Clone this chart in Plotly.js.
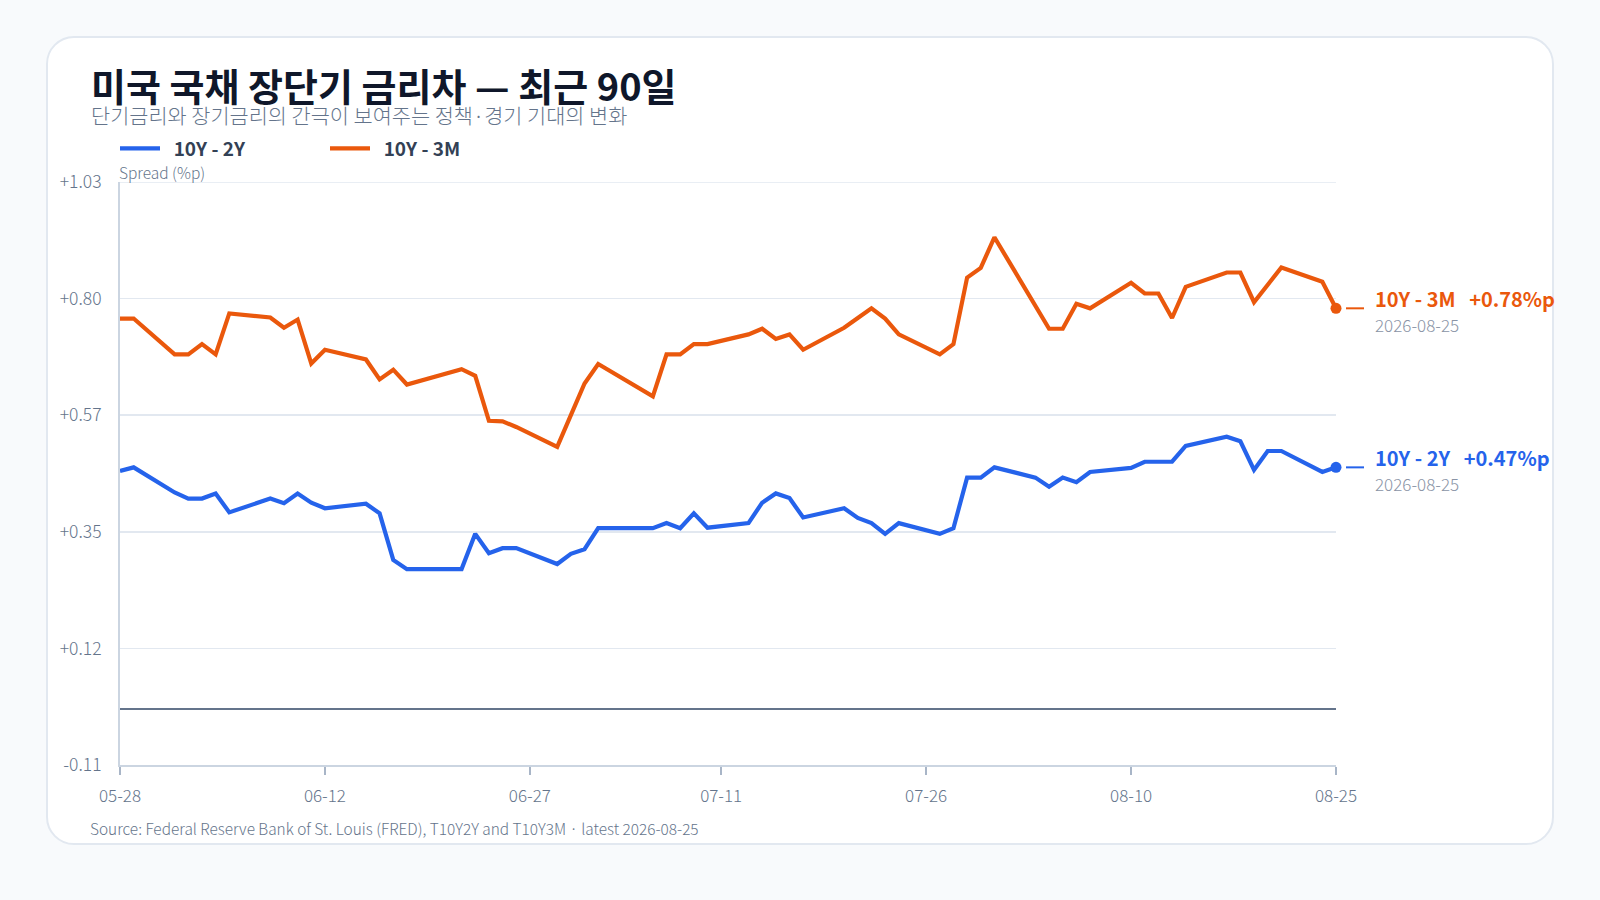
<!DOCTYPE html>
<html>
<head>
<meta charset="utf-8">
<script src="https://cdn.plot.ly/plotly-3.0.1.min.js"></script>
<style>
  html, body { margin: 0; padding: 0; width: 1600px; height: 900px; overflow: hidden; background: #f8fafc; }
  #card { position: absolute; left: 46px; top: 36px; width: 1504px; height: 805px; background: #ffffff;
          border: 2px solid #e2e8f0; border-radius: 28px; }
  #chart { position: absolute; left: 0; top: 0; width: 1600px; height: 900px; }
</style>
</head>
<body>
<div id="card"></div>
<div id="chart"></div>
<script>
// ---- data ----
const dates = [
  '2026-05-28','2026-05-29','2026-06-01','2026-06-02','2026-06-03','2026-06-04','2026-06-05',
  '2026-06-08','2026-06-09','2026-06-10','2026-06-11','2026-06-12','2026-06-15','2026-06-16',
  '2026-06-17','2026-06-18','2026-06-22','2026-06-23','2026-06-24','2026-06-25','2026-06-26',
  '2026-06-29','2026-06-30','2026-07-01','2026-07-02','2026-07-06','2026-07-07','2026-07-08',
  '2026-07-09','2026-07-10','2026-07-13','2026-07-14','2026-07-15','2026-07-16','2026-07-17',
  '2026-07-20','2026-07-21','2026-07-22','2026-07-23','2026-07-24','2026-07-27','2026-07-28',
  '2026-07-29','2026-07-30','2026-07-31','2026-08-03','2026-08-04','2026-08-05','2026-08-06',
  '2026-08-07','2026-08-10','2026-08-11','2026-08-12','2026-08-13','2026-08-14','2026-08-17',
  '2026-08-18','2026-08-19','2026-08-20','2026-08-21','2026-08-24','2026-08-25'
];
const spread10y2y = [
  0.465, 0.472, 0.423, 0.411, 0.411, 0.421, 0.384,
  0.411, 0.402, 0.421, 0.403, 0.392, 0.401, 0.382,
  0.291, 0.273, 0.273, 0.342, 0.304, 0.314, 0.314,
  0.283, 0.303, 0.312, 0.353, 0.353, 0.363, 0.353,
  0.382, 0.354, 0.363, 0.403, 0.421, 0.412, 0.374,
  0.392, 0.373, 0.363, 0.342, 0.363, 0.342, 0.353,
  0.452, 0.452, 0.472, 0.452, 0.434, 0.452, 0.443,
  0.463, 0.471, 0.483, 0.483, 0.483, 0.514, 0.532,
  0.523, 0.467, 0.504, 0.504, 0.463, 0.472
];
const spread10y3m = [
  0.763, 0.763, 0.693, 0.693, 0.713, 0.693, 0.773,
  0.765, 0.745, 0.761, 0.675, 0.702, 0.683, 0.644,
  0.663, 0.634, 0.664, 0.651, 0.563, 0.562, 0.551,
  0.512, 0.574, 0.636, 0.674, 0.611, 0.693, 0.693,
  0.713, 0.713, 0.732, 0.743, 0.723, 0.732, 0.702,
  0.745, 0.764, 0.783, 0.763, 0.732, 0.693, 0.713,
  0.843, 0.862, 0.922, 0.788, 0.743, 0.743, 0.792,
  0.783, 0.833, 0.812, 0.812, 0.764, 0.825, 0.853,
  0.853, 0.795, 0.830, 0.863, 0.835, 0.783
];
const seriesNames = ['10Y - 2Y', '10Y - 3M'];
const xTickDates  = ['2026-05-28','2026-06-12','2026-06-27','2026-07-11','2026-07-26','2026-08-10','2026-08-25'];
const xTickLabels = ['05-28','06-12','06-27','07-11','07-26','08-10','08-25'];
const yTickValues = [-0.11, 0.118, 0.346, 0.574, 0.802, 1.03];
const yTickLabels = ['-0.11', '+0.12', '+0.35', '+0.57', '+0.80', '+1.03'];
const yRange = [-0.11, 1.03];

const titleText = '미국 국채 장단기 금리차 — 최근 90일';
const subtitleText = '단기금리와 장기금리의 간극이 보여주는 정책·경기 기대의 변화';
const yAxisLabel = 'Spread (%p)';
const sourceText = 'Source: Federal Reserve Bank of St. Louis (FRED), T10Y2Y and T10Y3M · latest 2026-08-25';

// ---- styling ----
const FONT = '"Noto Sans CJK KR", "Noto Sans", sans-serif';
const COLORS = ['#2563eb', '#ea580c'];
const GRID = '#e2e8f0';
const W = 1600, H = 900;
const M = { l: 120, r: 264, t: 182, b: 135 };
const PW = W - M.l - M.r, PH = H - M.t - M.b;
const px = x => (x - M.l) / PW;            // page px -> paper x
const py = y => (H - M.b - y) / PH;        // page px -> paper y

const series = [spread10y2y, spread10y3m];
const last = dates.length - 1;
const lastDate = dates[last];

const traces = [];
series.forEach((vals, i) => {
  traces.push({
    type: 'scatter', mode: 'lines', name: '\u00a0\u00a0' + seriesNames[i],
    x: dates, y: vals,
    line: { color: COLORS[i], width: 4.2 },
    hoverinfo: 'skip'
  });
});
series.forEach((vals, i) => {
  traces.push({
    type: 'scatter', mode: 'markers', showlegend: false,
    x: [lastDate], y: [vals[last]],
    marker: { color: COLORS[i], size: 11 },
    cliponaxis: false, hoverinfo: 'skip'
  });
});

const fmt = v => (v >= 0 ? '+' : '') + v.toFixed(2);

const annotations = [
  { text: subtitleText, xref: 'paper', yref: 'paper', x: px(90), y: py(115.5), xanchor: 'left', yanchor: 'middle',
    showarrow: false, borderpad: 0, font: { family: FONT, size: 20.8, color: '#64748b', weight: 300 } },
  { text: yAxisLabel, xref: 'paper', yref: 'paper', x: px(118), y: py(171.5), xanchor: 'left', yanchor: 'middle',
    showarrow: false, borderpad: 0, font: { family: FONT, size: 15.5, color: '#64748b', weight: 300 } },
  { text: sourceText, xref: 'paper', yref: 'paper', x: px(88), y: py(828), xanchor: 'left', yanchor: 'middle',
    showarrow: false, font: { family: FONT, size: 15.4, color: '#64748b', weight: 300 } }
];
const shapes = [
  // top gridline at the upper end of the y range
  { type: 'line', xref: 'paper', yref: 'y', x0: 0, x1: 1, y0: yRange[1], y1: yRange[1],
    line: { color: GRID, width: 1.5 }, layer: 'below' }
];
series.forEach((vals, i) => {
  const v = vals[last];
  annotations.push({
    text: '<b>' + seriesNames[i] + '\u00a0\u00a0\u00a0' + fmt(v) + '%p</b>',
    xref: 'x', yref: 'y', x: lastDate, y: v, xanchor: 'left', yanchor: 'middle',
    xshift: 37, yshift: 10, showarrow: false,
    font: { family: FONT, size: 20, color: COLORS[i] }
  });
  annotations.push({
    text: lastDate,
    xref: 'x', yref: 'y', x: lastDate, y: v, xanchor: 'left', yanchor: 'middle',
    xshift: 37, yshift: -16, showarrow: false,
    font: { family: FONT, size: 17, color: '#8a94a6', weight: 300 }
  });
  shapes.push({
    type: 'line', xref: 'paper', yref: 'y',
    x0: 1 + 10 / PW, x1: 1 + 28 / PW, y0: v, y1: v,
    line: { color: COLORS[i], width: 2 }
  });
});

const layout = {
  width: W, height: H,
  paper_bgcolor: 'rgba(0,0,0,0)', plot_bgcolor: 'rgba(0,0,0,0)',
  margin: M,
  font: { family: FONT, color: '#334155' },
  title: {
    text: titleText, xref: 'container', yref: 'container',
    x: 91 / W, xanchor: 'left', y: 1 - 74 / H, yanchor: 'top',
    pad: { t: 0, b: 0, l: 0, r: 0 },
    font: { family: FONT, size: 38, color: '#0f172a', weight: 700 }
  },
  showlegend: true,
  legend: {
    orientation: 'h', xref: 'container', yref: 'container',
    x: 115 / W, y: 1 - 148.5 / H, xanchor: 'left', yanchor: 'middle',
    itemwidth: 40, entrywidth: 155, entrywidthmode: 'pixels',
    font: { family: FONT, size: 19, color: '#334155', weight: 700 },
    bgcolor: 'rgba(0,0,0,0)', traceorder: 'normal'
  },
  xaxis: {
    type: 'date', range: [dates[0], lastDate],
    tickmode: 'array', tickvals: xTickDates, ticktext: xTickLabels,
    showgrid: false, zeroline: false,
    showline: true, linecolor: '#cbd5e1', linewidth: 2,
    ticks: 'outside', ticklen: 8, tickwidth: 2, tickcolor: '#a8b5c7',
    ticklabelstandoff: 7,
    tickfont: { family: FONT, size: 17, color: '#64748b', weight: 300 },
    fixedrange: true
  },
  yaxis: {
    range: yRange, tickmode: 'array', tickvals: yTickValues, ticktext: yTickLabels,
    showgrid: true, gridcolor: GRID, gridwidth: 1.5,
    showline: true, linecolor: '#cbd5e1', linewidth: 2,
    ticks: '', ticklabelstandoff: 13,
    zeroline: true, zerolinecolor: '#64748b', zerolinewidth: 2.5,
    tickfont: { family: FONT, size: 17.5, color: '#64748b', weight: 300 },
    fixedrange: true
  },
  annotations: annotations,
  shapes: shapes
};

Plotly.newPlot('chart', traces, layout, { displayModeBar: false, staticPlot: true });
</script>
</body>
</html>
